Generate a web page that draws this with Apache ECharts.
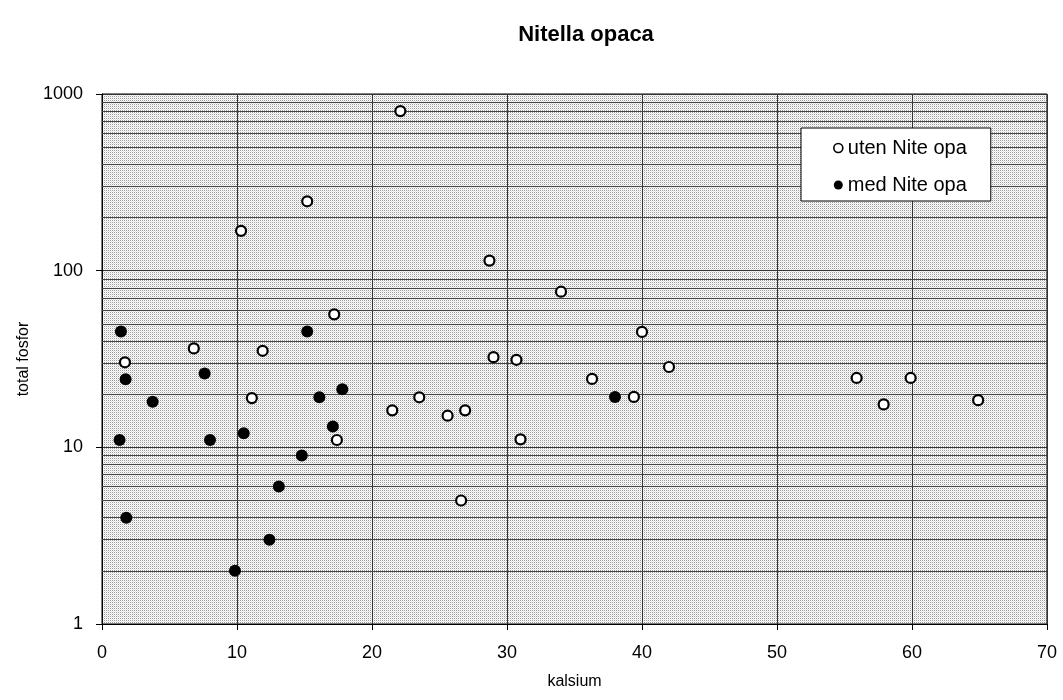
<!DOCTYPE html>
<html>
<head>
<meta charset="utf-8">
<script src="https://cdn.jsdelivr.net/npm/echarts@6/dist/echarts.min.js"></script>
<style>html,body{margin:0;padding:0;background:#fff}#c{width:1063px;height:700px}</style>
</head>
<body>
<div id="c"></div>
<script>
// uten Nite opa (open circles): [kalsium, total fosfor]
const utenData = [
  [15.2, 247], [10.3, 168], [17.2, 56.6], [6.8, 36.3], [11.9, 35.2], [1.7, 30.3],
  [11.1, 19.0], [17.4, 11.0], [22.1, 800], [28.7, 114], [34.0, 76], [40.0, 45],
  [29.0, 32.4], [30.7, 31.3], [42.0, 28.5], [36.3, 24.4], [39.4, 19.3], [23.5, 19.2],
  [21.5, 16.2], [25.6, 15.1], [26.9, 16.2], [31.0, 11.1], [26.6, 5.0],
  [55.9, 24.7], [59.9, 24.7], [57.9, 17.5], [64.9, 18.5]
];
// med Nite opa (filled circles)
const medData = [
  [1.4, 45.3], [15.2, 45.3], [1.75, 24.3], [7.6, 26.2], [3.75, 18.1], [16.1, 19.2],
  [17.8, 21.3], [17.1, 13.1], [1.3, 11.0], [8.0, 11.0], [10.5, 12.0], [14.8, 9.0],
  [13.1, 6.0], [1.8, 4.0], [12.4, 3.0], [9.85, 2.0], [38.0, 19.3]
];
const seriesNames = ['uten Nite opa', 'med Nite opa'];
const minorGrid = [2,3,4,5,6,7,8,9,20,30,40,50,60,70,80,90,200,300,400,500,600,700,800,900];

const pc = document.createElement('canvas');
pc.width = 2; pc.height = 2;
const g = pc.getContext('2d');
g.fillStyle = '#ffffff'; g.fillRect(0,0,2,2);
g.fillStyle = '#9a9a9a'; g.fillRect(0,0,1,1);
g.fillStyle = '#e0e0e0'; g.fillRect(1,1,1,1);

const font = 'Liberation Sans, Arial, sans-serif';
const chart = echarts.init(document.getElementById('c'));
chart.setOption({
  animation: false,
  backgroundColor: '#fff',
  title: {
    text: 'Nitella opaca', left: 581, top: 19, textAlign: 'center',
    textStyle: {fontFamily: font, fontSize: 22, fontWeight: 'bold', color: '#000'}
  },
  grid: {
    left: 102, right: 16, top: 94, bottom: 76, show: true,
    backgroundColor: {image: pc, repeat: 'repeat'}, borderColor: '#000', borderWidth: 1
  },
  legend: {
    orient: 'vertical', left: 801, top: 128, z: 20, zlevel: 1,
    backgroundColor: '#fff', borderColor: '#000', borderWidth: 1, borderRadius: 0,
    padding: [10, 24, 6, 32], itemGap: 17, itemWidth: 9, itemHeight: 9,
    textStyle: {fontFamily: font, fontSize: 20, color: '#000'},
    data: [
      {name: seriesNames[0], icon: 'circle', itemStyle: {color: '#fff', borderColor: '#000', borderWidth: 1.6}},
      {name: seriesNames[1], icon: 'circle', itemStyle: {color: '#000', borderWidth: 0}}
    ]
  },
  xAxis: {
    type: 'value', min: 0, max: 70, interval: 10,
    name: 'kalsium', nameLocation: 'middle', nameGap: 50,
    nameTextStyle: {fontFamily: font, fontSize: 16, color: '#000'},
    axisLine: {lineStyle: {color: '#000', width: 1}},
    axisTick: {show: true, inside: false, length: 6, lineStyle: {color: '#000'}},
    axisLabel: {fontFamily: font, fontSize: 18, color: '#000', margin: 20},
    splitLine: {show: true, lineStyle: {color: '#333', width: 1}}
  },
  yAxis: {
    type: 'log', logBase: 10, min: 1, max: 1000,
    name: 'total fosfor', nameLocation: 'middle', nameGap: 70,
    nameTextStyle: {fontFamily: font, fontSize: 16, color: '#000'},
    axisLine: {show: true, lineStyle: {color: '#000', width: 1}},
    axisTick: {show: true, inside: false, length: 6, lineStyle: {color: '#000'}},
    axisLabel: {fontFamily: font, fontSize: 18, color: '#000', margin: 19, formatter: v => String(Math.round(v))},
    splitLine: {show: true, lineStyle: {color: '#333', width: 1}}
  },
  series: [
    {
      name: seriesNames[0], type: 'scatter', data: utenData, symbol: 'circle', symbolSize: 10,
      itemStyle: {color: '#fff', borderColor: '#000', borderWidth: 2.2, opacity: 1},
      z: 3,
      markLine: {
        silent: true, symbol: 'none', label: {show: false}, z: 1,
        lineStyle: {color: '#444', width: 1, type: 'solid'},
        data: minorGrid.map(v => ({yAxis: v}))
      }
    },
    {
      name: seriesNames[1], type: 'scatter', data: medData, symbol: 'circle', symbolSize: 12,
      itemStyle: {color: '#000', opacity: 1}, z: 4
    }
  ]
});
</script>
</body>
</html>
